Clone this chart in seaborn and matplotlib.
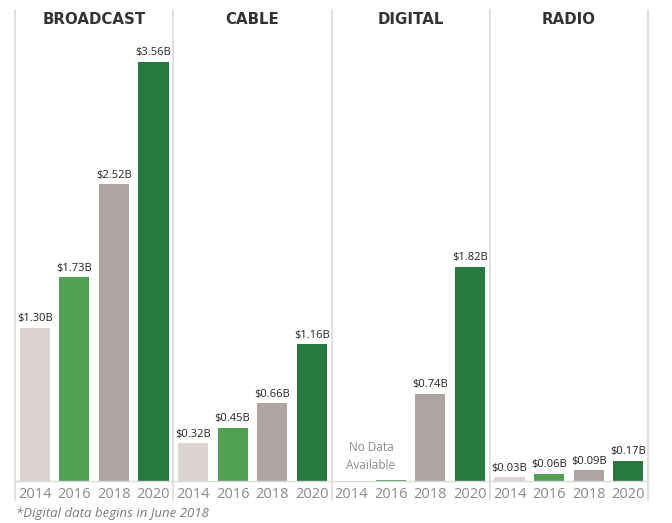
import numpy as np
import pandas as pd
import matplotlib
matplotlib.use("Agg")
import matplotlib.pyplot as plt
from matplotlib.lines import Line2D
import seaborn as sns

# ---- data ----
channels = ["BROADCAST", "CABLE", "DIGITAL", "RADIO"]
years = ["2014", "2016", "2018", "2020"]
broadcast = [1.30, 1.73, 2.52, 3.56]
cable = [0.32, 0.45, 0.66, 1.16]
digital = [np.nan, 0.012, 0.74, 1.82]
radio = [0.03, 0.06, 0.09, 0.17]
digital_labeled = [False, False, True, True]
footnote = "*Digital data begins in June 2018"
no_data_text = "No Data\nAvailable"

values = {"BROADCAST": broadcast, "CABLE": cable, "DIGITAL": digital, "RADIO": radio}
palette = {"2014": "#DCD4D1", "2016": "#52A052", "2018": "#AEA5A2", "2020": "#267A40"}

sns.set_theme(style="white")
plt.rcParams["font.family"] = ["Open Sans", "DejaVu Sans"]

fig = plt.figure(figsize=(6.72, 5.23), dpi=100)
W, H = 672, 523
left, right = 15 / W, 648 / W
bottom, top = 1 - 481 / H, 1 - 10 / H
pw = (right - left) / 4
sep_color = "#DADADA"

for i, ch in enumerate(channels):
    ax = fig.add_axes([left + i * pw, bottom, pw, top - bottom])
    df = pd.DataFrame({"year": years, "value": values[ch]})
    sns.barplot(data=df, x="year", y="value", hue="year", palette=palette,
                order=years, hue_order=years, width=0.76, legend=False,
                ax=ax, saturation=1, linewidth=0)
    ax.set_ylim(0, 4.0)
    ax.set_xlim(-0.5, 3.5)
    ax.set_xlabel("")
    ax.set_ylabel("")
    ax.set_yticks([])
    ax.tick_params(axis="x", length=0, pad=4, labelsize=10.5, labelcolor="#8A8A8A")
    for s in ["top", "right", "left"]:
        ax.spines[s].set_visible(False)
    ax.spines["bottom"].set_color(sep_color)
    ax.spines["bottom"].set_linewidth(1)
    ax.patch.set_alpha(0)
    ax.text(1.5, 3.98, ch, ha="center", va="top", family="DejaVu Sans",
            fontsize=10.8, fontweight="bold", color="#333333")
    for j, (y, v) in enumerate(zip(years, values[ch])):
        if np.isnan(v):
            continue
        if ch == "DIGITAL" and not digital_labeled[j]:
            continue
        ax.text(j, v + 0.03, f"${v:.2f}B", ha="center", va="bottom",
                fontsize=8, color="#222222")
    if ch == "DIGITAL":
        ax.text(0.5, 0.08, no_data_text, ha="center", va="bottom",
                fontsize=8.5, color="#8A8A8A", linespacing=1.45)

# panel separators
for k in range(5):
    x = left + k * pw
    fig.add_artist(Line2D([x, x], [1 - 500 / H, top], color=sep_color, lw=1.2))

fig.text(16 / W, 1 - 513 / H, footnote, ha="left", va="center", fontsize=9.5,
         style="italic", color="#7A7A7A")

fig.savefig("out.png", dpi=100)
